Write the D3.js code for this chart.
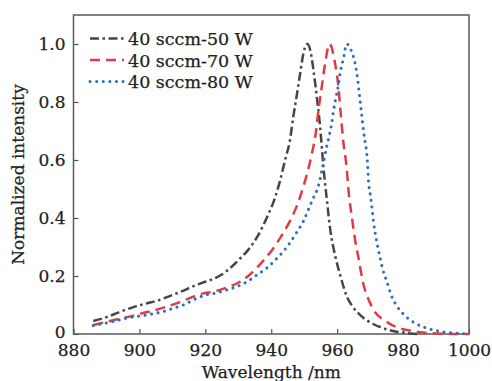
<!DOCTYPE html>
<html>
<head>
<meta charset="utf-8">
<script src="https://cdn.jsdelivr.net/npm/d3@7"></script>
<style>
  body { margin: 0; background: #fff; }
  text { font-family: "DejaVu Serif", "Liberation Serif", serif; fill: #222; stroke: #222; stroke-width: 0.25px; }
</style>
</head>
<body>
<svg width="492" height="381"></svg>
<script>
// data: [wavelength nm, normalized intensity]
const series50W = [[886,0.045],[890,0.058],[894,0.076],[898,0.092],[902,0.105],[906,0.117],[909,0.13],[913,0.148],[917,0.168],[920,0.18],[922.4,0.19],[925,0.205],[928,0.232],[930.5,0.26],[933,0.29],[936,0.34],[939,0.41],[941,0.465],[942.7,0.53],[944.2,0.6],[945.7,0.67],[946.7,0.75],[947.7,0.82],[948.8,0.9],[949.8,0.97],[951,1.0],[952,0.97],[952.8,0.91],[953.8,0.82],[954.6,0.74],[955.3,0.65],[955.8,0.58],[956.9,0.46],[957.9,0.36],[959.4,0.27],[961,0.2],[962.9,0.13],[965,0.09],[967,0.065],[970,0.04],[974,0.02],[978,0.008],[982,0.002],[985,0]];
const series70W = [[886,0.031],[890,0.042],[893,0.05],[897,0.06],[901,0.072],[905,0.083],[909,0.097],[912.3,0.11],[916,0.127],[919.4,0.14],[922,0.145],[924.4,0.152],[927,0.162],[930.5,0.18],[933,0.2],[935.6,0.228],[938,0.258],[940.6,0.295],[943.7,0.35],[945.7,0.39],[947.7,0.44],[949.8,0.51],[950.8,0.55],[952.3,0.62],[953.6,0.7],[954.3,0.77],[955.3,0.85],[956.3,0.93],[957.7,1.0],[959.4,0.93],[960.4,0.85],[961,0.77],[961.9,0.66],[962.9,0.57],[963.4,0.5],[964.5,0.4],[965.5,0.32],[966.5,0.26],[968,0.17],[969.5,0.12],[972,0.068],[974,0.05],[976,0.035],[979,0.02],[982,0.012],[986,0.005],[990,0.002],[995,0],[1000,0]];
const series80W = [[886,0.029],[889.5,0.037],[893.1,0.046],[896.6,0.056],[900.2,0.062],[903.7,0.069],[907.2,0.077],[910.3,0.089],[913.3,0.1],[916.3,0.117],[919.9,0.134],[923.5,0.142],[926.5,0.152],[929.5,0.163],[932.6,0.18],[935.6,0.203],[938.6,0.227],[941.2,0.255],[943.7,0.285],[945.7,0.315],[947.7,0.35],[949.8,0.39],[951.3,0.43],[952.8,0.47],[954.3,0.51],[955.3,0.56],[956.9,0.65],[957.7,0.69],[958.4,0.73],[958.9,0.77],[959.7,0.82],[960.4,0.86],[960.9,0.9],[961.9,0.95],[962.9,1.0],[964.5,0.97],[965.5,0.93],[966.2,0.88],[966.6,0.84],[967,0.8],[967.5,0.75],[968,0.7],[968.5,0.66],[969,0.62],[969.3,0.57],[969.5,0.525],[970,0.485],[970.5,0.44],[971,0.39],[971.5,0.35],[972.2,0.307],[973,0.265],[973.9,0.22],[975.1,0.18],[976.4,0.134],[978.1,0.097],[980.6,0.063],[983.7,0.037],[986.7,0.022],[990.3,0.011],[993.8,0.005],[997.3,0.002],[1000,0]];

const seriesNames = ["40 sccm-50 W", "40 sccm-70 W", "40 sccm-80 W"];
const xTicks = [880, 900, 920, 940, 960, 980, 1000];
const yTicks = [0, 0.2, 0.4, 0.6, 0.8, 1.0];

const svg = d3.select("svg"),
    width = +svg.attr("width"),
    height = +svg.attr("height");

const margin = {top: 15, right: 23, bottom: 47, left: 73.5};

const x = d3.scaleLinear()
    .domain([880, 1000])
    .range([margin.left, width - margin.right]);

const y = d3.scaleLinear()
    .domain([0, 1.1])
    .range([height - margin.bottom, margin.top]);

// line styles for each series
const styles = [
  {color: "#454545", dash: "9,3.5,2.5,3.5", cap: "butt"},
  {color: "#e23a44", dash: "10,6", cap: "butt"},
  {color: "#2b6fbd", dash: "0.1,6.5", cap: "round"}
];

// axes, ticks pointing inward
const xAxis = svg.append("g")
    .attr("transform", `translate(0,${height - margin.bottom})`)
    .call(d3.axisBottom(x).tickValues(xTicks).tickSizeInner(-5).tickSizeOuter(0).tickPadding(10).tickFormat(d3.format("d")));

const yAxis = svg.append("g")
    .attr("transform", `translate(${margin.left},0)`)
    .call(d3.axisLeft(y).tickValues(yTicks).tickSizeInner(-5).tickSizeOuter(0).tickPadding(8)
      .tickFormat(d => d === 0 ? "0" : d3.format(".1f")(d)));

[xAxis, yAxis].forEach(a => {
  a.select(".domain").remove();
  a.selectAll(".tick line").attr("stroke", "#555").attr("stroke-width", 1.2);
  a.selectAll(".tick text")
    .style("font-size", "17px")
    .style("font-family", "DejaVu Serif, serif")
    .attr("fill", "#222");
});

// nudge the 0 label up a touch so it clears the 880 label
yAxis.selectAll(".tick text").filter(d => d === 0).attr("dy", "0.2em");

// frame
svg.append("rect")
    .attr("x", x.range()[0])
    .attr("y", y.range()[1])
    .attr("width", x.range()[1] - x.range()[0])
    .attr("height", y.range()[0] - y.range()[1])
    .attr("fill", "none")
    .attr("stroke", "#5a5a5a")
    .attr("stroke-width", 1.5);

// curves
const line = d3.line()
    .x(d => x(d[0]))
    .y(d => y(d[1]))
    .curve(d3.curveMonotoneX);

[series50W, series70W, series80W].forEach((s, i) => {
  svg.append("path")
    .datum(s)
    .attr("fill", "none")
    .attr("stroke", styles[i].color)
    .attr("stroke-width", i === 2 ? 3 : 2.5)
    .attr("stroke-dasharray", styles[i].dash)
    .attr("stroke-linecap", styles[i].cap)
    .attr("d", line);
});

// legend
const legend = svg.append("g");
seriesNames.forEach((name, i) => {
  const ly = 38.5 + i * 21.5;
  legend.append("line")
    .attr("x1", 90).attr("x2", 124)
    .attr("y1", ly).attr("y2", ly)
    .attr("stroke", styles[i].color)
    .attr("stroke-width", i === 2 ? 3 : 2.5)
    .attr("stroke-dasharray", styles[i].dash)
    .attr("stroke-linecap", styles[i].cap);
  legend.append("text")
    .attr("x", 128)
    .attr("y", ly + 6.5)
    .style("font-size", "17.5px")
    .text(name);
});

// axis titles
svg.append("text")
    .attr("x", (x.range()[0] + x.range()[1]) / 2)
    .attr("y", 378)
    .attr("text-anchor", "middle")
    .style("font-size", "17px")
    .text("Wavelength /nm");

svg.append("text")
    .attr("transform", `translate(24,${(y.range()[0] + y.range()[1]) / 2}) rotate(-90)`)
    .attr("text-anchor", "middle")
    .style("font-size", "17px")
    .text("Normalized intensity");
</script>
</body>
</html>
